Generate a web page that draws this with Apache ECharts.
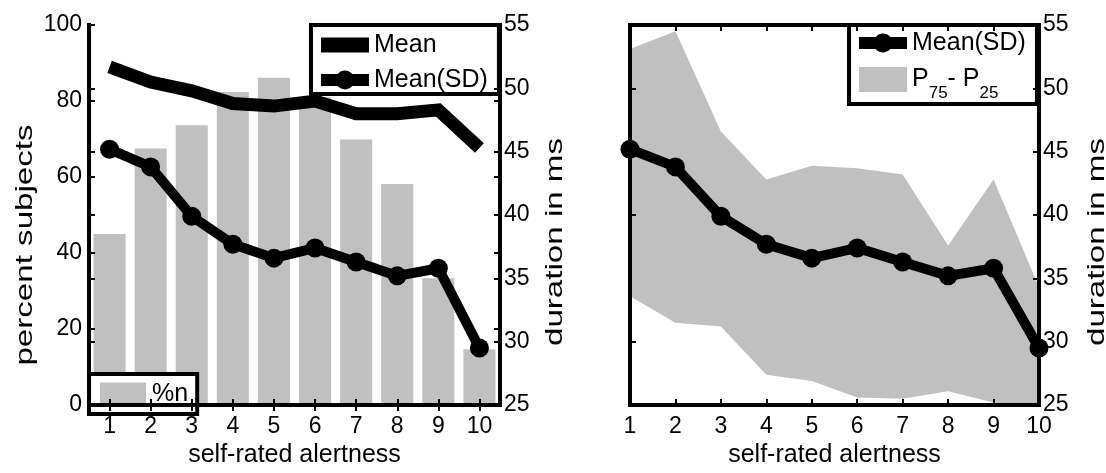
<!DOCTYPE html>
<html>
<head>
<meta charset="utf-8">
<script src="https://cdn.jsdelivr.net/npm/echarts@6/dist/echarts.min.js"></script>
<style>
  body { margin: 0; background: #fff; }
  #main { width: 1106px; height: 473px; }
</style>
</head>
<body>
<div id="main"></div>
<script>
// data
let alertness = ['1', '2', '3', '4', '5', '6', '7', '8', '9', '10']
let pctSubjects = [45, 67.5, 73.6, 82.4, 86.1, 81, 69.9, 58.2, 33.4, 14.7]   // %n, left axis
let meanDur = [51.7, 50.5, 49.8, 48.8, 48.6, 49.0, 48.0, 48.0, 48.3, 45.3]   // Mean, ms
let meanSD = [45.2, 43.8, 39.9, 37.7, 36.6, 37.4, 36.3, 35.2, 35.8, 29.5]    // Mean(SD), ms
let p75 = [53.1, 54.5, 46.6, 42.8, 43.9, 43.7, 43.2, 37.6, 42.8, 34.3]
let p25 = [33.6, 31.5, 31.2, 27.4, 26.9, 25.6, 25.5, 26.1, 25.2, 24.5]
let pctTicks = { min: 0, max: 100, step: 20 }
let durTicks = { min: 25, max: 55, step: 5 }
let hiddenTicks = [30, 40, 50]

const FONT = 'Liberation Sans, Arial, sans-serif'
const GRAY = '#c0c0c0'
const BAND = 'P75- P25'

let sdIcon = 'path://M0,3.5H16.63A9.5,9.5,0,0,1,31.37,3.5H48V15.5H31.37A9.5,9.5,0,0,1,16.63,15.5H0Z'
let meanIcon = 'path://M0,0H48V15H0Z'
let boxIcon = 'path://M0,0H48V25H0Z'

let myChart = echarts.init(document.getElementById('main'))

let tickStyle = { color: '#000', width: 2 }

// 4px frame line + small inward ticks
function frame(extra, tick) {
  return Object.assign({
    z: 10,
    axisLine: { show: true, lineStyle: { color: '#000', width: 4, cap: 'square' } },
    axisTick: Object.assign({ show: true, inside: true, length: 6, lineStyle: tickStyle }, tick),
    axisLabel: { show: false },
    splitLine: { show: false }
  }, extra)
}
// extra tick set only (mirrored ticks of the other y axis)
function ticksOnly(extra) {
  return Object.assign({
    z: 10,
    axisLine: { show: false },
    axisTick: { show: true, inside: true, length: 6, lineStyle: tickStyle },
    axisLabel: { show: false },
    splitLine: { show: false }
  }, extra)
}

let tickLabel = { show: true, color: '#000', fontSize: 23, fontFamily: FONT }
let xName = { color: '#000', fontSize: 25, fontFamily: FONT }

// rotated y titles, stretched along their length like the original
function yTitle(text, x, y) {
  return {
    type: 'text', x: x, y: y, rotation: Math.PI / 2, scaleX: 1.38, z: 20,
    style: { text: text, fill: '#000', font: '24px ' + FONT, align: 'center', verticalAlign: 'middle' }
  }
}

let option = {
  animation: false,
  backgroundColor: '#fff',
  grid: [
    { left: 89, top: 25, width: 411, height: 388 },
    { left: 630, top: 25, width: 409, height: 388 }
  ],
  graphic: [
    yTitle('percent subjects', 25, 245),
    yTitle('duration in ms', 555, 242),
    yTitle('duration in ms', 1097, 242)
  ],
  xAxis: [
    frame({
      type: 'category', gridIndex: 0, position: 'bottom', data: alertness,
      axisLabel: Object.assign({ margin: 10 }, tickLabel),
      name: 'self-rated alertness', nameLocation: 'middle', nameGap: 35, nameTextStyle: xName
    }, { alignWithLabel: true }),
    frame({ type: 'category', gridIndex: 0, position: 'top', data: alertness }, { alignWithLabel: true }),
    frame({
      type: 'category', gridIndex: 1, position: 'bottom', data: alertness, boundaryGap: false,
      axisLabel: Object.assign({ margin: 10 }, tickLabel),
      name: 'self-rated alertness', nameLocation: 'middle', nameGap: 35, nameTextStyle: xName
    }),
    frame({ type: 'category', gridIndex: 1, position: 'top', data: alertness, boundaryGap: false })
  ],
  yAxis: [
    // left panel
    frame({
      type: 'value', gridIndex: 0, position: 'left',
      min: pctTicks.min, max: pctTicks.max, interval: pctTicks.step,
      axisLabel: Object.assign({ margin: 7 }, tickLabel)
    }),
    frame({
      type: 'value', gridIndex: 0, position: 'right',
      min: durTicks.min, max: durTicks.max, interval: durTicks.step,
      axisLabel: Object.assign({ margin: 4 }, tickLabel)
    }),
    ticksOnly({ type: 'value', gridIndex: 0, position: 'left', min: durTicks.min, max: durTicks.max, interval: durTicks.step }),
    ticksOnly({ type: 'value', gridIndex: 0, position: 'right', min: pctTicks.min, max: pctTicks.max, interval: pctTicks.step }),
    // right panel
    frame({
      type: 'value', gridIndex: 1, position: 'left',
      min: durTicks.min, max: durTicks.max, interval: durTicks.step
    }, { customValues: hiddenTicks }),
    frame({
      type: 'value', gridIndex: 1, position: 'right',
      min: durTicks.min, max: durTicks.max, interval: durTicks.step,
      axisLabel: Object.assign({ margin: 4 }, tickLabel)
    })
  ],
  legend: [
    {
      left: 311, top: 25, orient: 'vertical', align: 'left', selectedMode: false,
      data: [{ name: 'Mean', icon: meanIcon }, { name: 'Mean(SD)', icon: sdIcon }],
      itemWidth: 48, itemHeight: 19, itemGap: 7, itemTextGap: 6,
      padding: [6, 11, 0, 10],
      backgroundColor: '#fff', borderColor: '#000', borderWidth: 4,
      itemStyle: { borderWidth: 0 },
      textStyle: { color: '#000', fontSize: 25, lineHeight: 28, fontFamily: FONT }
    },
    {
      left: 89, top: 374, selectedMode: false,
      data: [{ name: '%n', icon: boxIcon }],
      itemWidth: 48, itemHeight: 24, itemTextGap: 7,
      padding: [8, 9, 7, 11],
      backgroundColor: '#fff', borderColor: '#000', borderWidth: 4,
      itemStyle: { borderWidth: 0 },
      textStyle: { color: '#000', fontSize: 25, lineHeight: 24, fontFamily: FONT }
    },
    {
      left: 849, top: 25, orient: 'vertical', align: 'left', selectedMode: false,
      data: [{ name: 'Mean(SD)', icon: sdIcon }, { name: BAND, icon: boxIcon }],
      itemWidth: 48, itemHeight: 25, itemGap: 0, itemTextGap: 6,
      padding: [4, 11, 2, 10],
      backgroundColor: '#fff', borderColor: '#000', borderWidth: 4,
      itemStyle: { borderWidth: 0 },
      formatter: name => name === BAND ? '{a|P}{s|75}{a|- P}{s|25}' : name,
      textStyle: {
        color: '#000', fontSize: 25, lineHeight: 28, fontFamily: FONT,
        rich: {
          a: { fontSize: 25, lineHeight: 28, fontFamily: FONT, color: '#000' },
          s: { fontSize: 17, lineHeight: 20, padding: [28, 0, 0, 0], fontFamily: FONT, color: '#000' }
        }
      }
    }
  ],
  series: [
    {
      name: '%n', type: 'bar', xAxisIndex: 0, yAxisIndex: 0,
      data: pctSubjects, barWidth: '78%',
      itemStyle: { color: GRAY }
    },
    {
      name: 'Mean', type: 'line', xAxisIndex: 0, yAxisIndex: 1,
      data: meanDur, symbol: 'none',
      itemStyle: { color: '#000' },
      lineStyle: { color: '#000', width: 13, join: 'miter', cap: 'butt' }
    },
    {
      name: 'Mean(SD)', type: 'line', xAxisIndex: 0, yAxisIndex: 1,
      data: meanSD, symbol: 'circle', symbolSize: 19,
      itemStyle: { color: '#000' },
      lineStyle: { color: '#000', width: 10, join: 'miter' }
    },
    // right panel: interquartile band as stacked area
    {
      name: 'p25', type: 'line', xAxisIndex: 2, yAxisIndex: 5, stack: 'iqr',
      data: p25, symbol: 'none', lineStyle: { width: 0, opacity: 0 }
    },
    {
      name: BAND, type: 'line', xAxisIndex: 2, yAxisIndex: 5, stack: 'iqr',
      data: p75.map((v, i) => v - p25[i]),
      symbol: 'none', lineStyle: { width: 0, opacity: 0 },
      itemStyle: { color: GRAY },
      areaStyle: { color: GRAY, opacity: 1 }
    },
    {
      name: 'Mean(SD)', type: 'line', xAxisIndex: 2, yAxisIndex: 5,
      data: meanSD, symbol: 'circle', symbolSize: 19, z: 5,
      itemStyle: { color: '#000' },
      lineStyle: { color: '#000', width: 10, join: 'miter' }
    }
  ]
}

myChart.setOption(option)
</script>
</body>
</html>
